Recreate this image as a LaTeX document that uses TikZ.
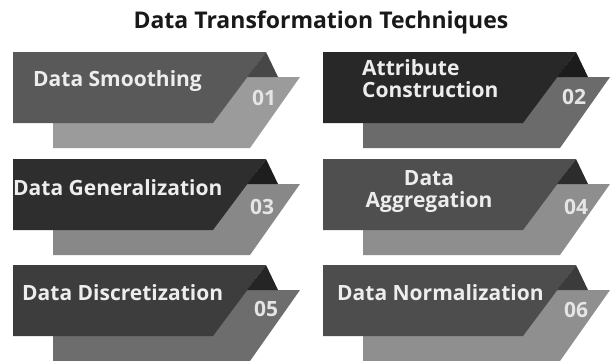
\documentclass[tikz,border=0pt]{standalone}
\usepackage{fontspec}
\setmainfont{Open Sans}
\begin{document}
\begin{tikzpicture}[x=1pt,y=-1pt,
  label/.style={text=white!93!black,font=\bfseries\fontsize{21}{22}\selectfont,inner sep=0pt},
  num/.style={text=white!90!black,font=\bfseries\fontsize{21}{22}\selectfont,inner sep=0pt},
  heading/.style={text=black!90,font=\bfseries\fontsize{23}{26}\selectfont,inner sep=0pt}]
\useasboundingbox (0,0) rectangle (610,360);
\clip (0,0) rectangle (610,360);
\fill[white] (0,0) rectangle (610,360);

% #1,#2: top-left of the dark band; #3 dark, #4 fold, #5 light
\newcommand\ribbon[5]{%
  \begin{scope}[shift={(#1,#2)}]
    \fill[#5] (40,25) -- (287,25) -- (237,96) -- (40,96) -- cycle;
    \fill[#3] (0,0) -- (253,0) -- (200,71) -- (0,71) -- cycle;
    \fill[#4] (253,0) -- (265,25) -- (234,25) -- cycle;
  \end{scope}}

\definecolor{dA}{HTML}{595959}\definecolor{fA}{HTML}{474747}\definecolor{lA}{HTML}{9B9B9B}
\definecolor{dB}{HTML}{282828}\definecolor{fB}{HTML}{1C1C1C}\definecolor{lB}{HTML}{6B6B6B}
\definecolor{dC}{HTML}{2E2E2E}\definecolor{fC}{HTML}{1E1E1E}\definecolor{lC}{HTML}{888888}
\definecolor{dD}{HTML}{4F4F4F}\definecolor{fD}{HTML}{2C2C2C}\definecolor{lD}{HTML}{8E8E8E}
\definecolor{dE}{HTML}{3D3D3D}\definecolor{fE}{HTML}{252525}\definecolor{lE}{HTML}{6D6D6D}
\definecolor{dF}{HTML}{4D4D4D}\definecolor{fF}{HTML}{3B3B3B}\definecolor{lF}{HTML}{8F8F8F}

\ribbon{13}{52}{dA}{fA}{lA}
\ribbon{323}{52}{dB}{fB}{lB}
\ribbon{13}{159}{dC}{fC}{lC}
\ribbon{323}{159}{dD}{fD}{lD}
\ribbon{13}{265}{dE}{fE}{lE}
\ribbon{323}{265}{dF}{fF}{lF}

\node[heading] (title) at (321,22) {Data Transformation Techniques};

\node[label,anchor=west] (t1) at (33,81) {Data Smoothing};
\node[num] (n1) at (264,98) {01};
\node[label,anchor=west,align=left] (t2) at (362,79) {Attribute\\Construction};
\node[num] (n2) at (574,97) {02};
\node[label,anchor=west] (t3) at (13,188) {Data Generalization};
\node[num] (n3) at (262,207) {03};
\node[label,align=center] (t4) at (429,192) {Data\\Aggregation};
\node[num] (n4) at (576,207) {04};
\node[label,anchor=west] (t5) at (22,293) {Data Discretization};
\node[num] (n5) at (266,309) {05};
\node[label,anchor=west] (t6) at (337,293) {Data Normalization};
\node[num] (n6) at (576,310) {06};
\end{tikzpicture}
\end{document}
